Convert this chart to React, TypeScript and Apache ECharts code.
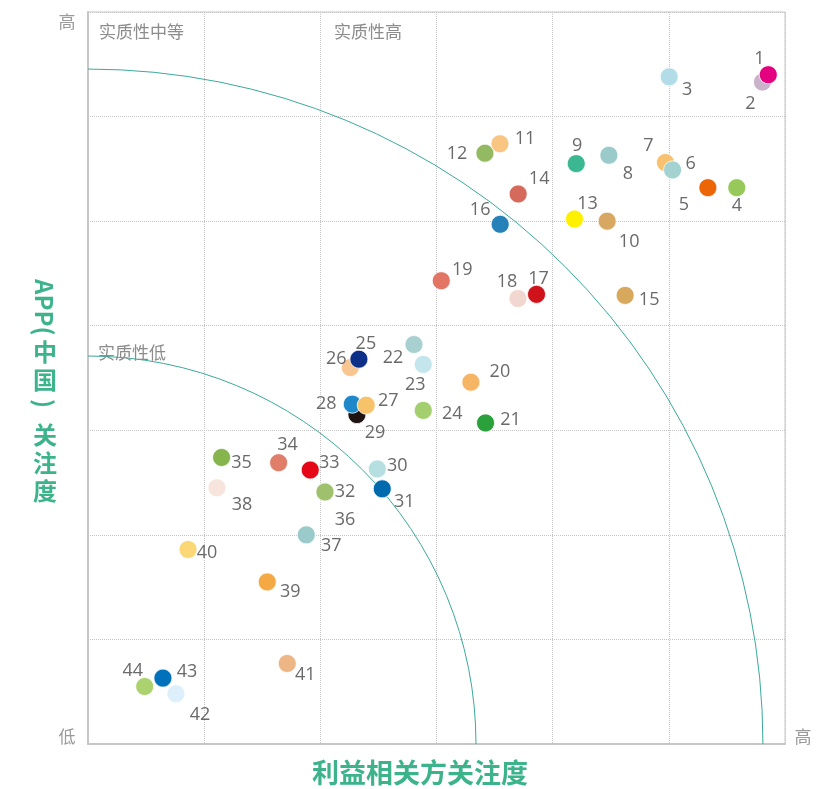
import React, { useEffect, useRef } from "react";
import * as echarts from "echarts";

// Issue numbers
const ids: string[] = Array.from({ length: 44 }, (_, i) => String(i + 1));

// 利益相关方关注度 (x)
const stakeholderValues: number[] = [
  5.856, 5.806, 5.003, 5.585, 5.336, 5.032, 4.971, 4.484, 4.203, 4.469,
  3.546, 3.417, 4.188, 3.703, 4.624, 3.548, 3.861, 3.701, 3.041, 3.296,
  3.422, 2.806, 2.886, 2.886, 2.332, 2.258, 2.395, 2.275, 2.315, 2.49,
  2.533, 2.04, 1.913, 1.641, 1.15, 2.04, 1.879, 1.11, 1.543, 0.861,
  1.715, 0.757, 0.645, 0.488,
];

// APP（中国）关注度 (y)
const appValues: number[] = [
  6.4, 6.33, 6.38, 5.32, 5.32, 5.49, 5.56, 5.63, 5.55, 5.0,
  5.74, 5.65, 5.02, 5.26, 4.29, 4.97, 4.3, 4.26, 4.43, 3.46,
  3.07, 3.82, 3.63, 3.19, 3.68, 3.6, 3.24, 3.25, 3.15, 2.63,
  2.44, 2.41, 2.62, 2.69, 2.74, 2.41, 2.0, 2.45, 1.55, 1.86,
  0.77, 0.48, 0.63, 0.55,
];

const colors: string[] = [
  "#e4007f", "#c9b3c9", "#b2dde8", "#97c85a", "#ec6608", "#a3d2d0", "#f7c170", "#9acbca", "#3bb791", "#d8a862",
  "#f9c583", "#93ba62", "#fff000", "#d5695c", "#d8a95d", "#2581b8", "#d0121b", "#f1d7d0", "#e27564", "#f5b565",
  "#2aa13a", "#a9d0d0", "#c4e5ec", "#a4cf6f", "#0d2f87", "#f9c590", "#f6c26a", "#1f88c9", "#1f1411", "#b6dfe1",
  "#006aae", "#9fc16e", "#e50717", "#e07e6a", "#85b54c", "#9fc16e", "#9bcacb", "#f7e5dd", "#f5a944", "#fbd775",
  "#eeb585", "#ddeffb", "#0071bb", "#acd26f",
];

// label offsets (px) from each dot's centre
const labelOffsets: number[][] = [
  [-9, -18], [-12, 20], [18, 11], [0, 16], [-24, 15], [18, -8], [-17, -19], [19, 17], [1, -20], [22, 19],
  [25, -7], [-28, -1], [13, -17], [21, -17], [24, 3], [-20, -16], [2, -17], [-11, -19], [21, -13], [29, -12],
  [25, -5], [-21, 11], [-8, 19], [29, 2], [7, -17], [-14, -11], [22, -6], [-26, -2], [18, 16], [20, -5],
  [22, 11], [20, -2], [19, -9], [9, -20], [20, 4], [20, 26], [25, 9], [25, 15], [23, 8], [19, 2],
  [18, 10], [24, 19], [24, -8], [-12, -17],
];

const xTicks = { min: 0, max: 6, interval: 1 };
const yTicks = { min: 0, max: 7, interval: 1 };
// arc radii in x-axis units
const arcRadii: number[] = [3.34, 5.81];

const GREEN = "#3db38b";
const CJK = "'Noto Sans CJK SC', 'Noto Sans', sans-serif";

export default function App() {
  const ref = useRef<HTMLDivElement>(null);
  useEffect(() => {
    if (!ref.current) return;
    const chart = echarts.init(ref.current, undefined, { renderer: "svg" });

    const data = ids
      .map((id, i) => ({
        value: [stakeholderValues[i], appValues[i]],
        name: id,
        itemStyle: { color: colors[i] },
        label: { offset: labelOffsets[i] },
      }))
      .reverse();

    const splitLine = { show: true, lineStyle: { type: "dotted" as const, color: "#c4c4c4", width: 1 } };
    chart.setOption({
      animation: false,
      grid: { left: 88, top: 12, width: 697, height: 732, show: true, borderColor: "#c6c6c6", borderWidth: 1 },
      xAxis: {
        type: "value",
        ...xTicks,
        axisLabel: { show: false },
        axisTick: { show: false },
        axisLine: { show: true, lineStyle: { color: "#c6c6c6", width: 2 } },
        splitLine,
      },
      yAxis: {
        type: "value",
        ...yTicks,
        axisLabel: { show: false },
        axisTick: { show: false },
        axisLine: { show: true, lineStyle: { color: "#c6c6c6", width: 2 } },
        splitLine,
      },
      series: [
        {
          type: "scatter",
          symbolSize: 18,
          data,
          itemStyle: { opacity: 1, borderColor: "#ffffff", borderWidth: 0.8 },
          label: {
            show: true,
            position: "inside",
            formatter: (p: any) => p.name,
            color: "#6a6a6a",
            fontSize: 18,
            fontFamily: "'Open Sans', 'Noto Sans', sans-serif",
          },
          emphasis: { disabled: true },
          z: 3,
        },
      ],
    });

    const o = chart.convertToPixel({ gridIndex: 0 }, [0, 0]) as number[];
    const arcs = arcRadii.map((r) => {
      const p = chart.convertToPixel({ xAxisIndex: 0 }, r) as unknown as number;
      const rad = p - o[0];
      return {
        type: "arc",
        shape: { cx: o[0], cy: o[1], r: rad, startAngle: -Math.PI / 2, endAngle: 0, clockwise: true },
        style: { stroke: "#3aa99a", lineWidth: 1, fill: "none" },
        z: 1,
        silent: true,
      };
    });

    const grayText = (text: string, x: number, y: number, align = "left", size = 17, color = "#8c8c8c") => ({
      type: "text",
      x,
      y,
      silent: true,
      style: { text, fill: color, fontSize: size, fontFamily: CJK, align, verticalAlign: "middle" },
      z: 5,
    });

    const upright = (text: string, y: number) => ({
      type: "text",
      x: 45,
      y,
      silent: true,
      style: {
        text,
        fill: GREEN,
        fontSize: 24,
        lineHeight: 28,
        fontWeight: "bold",
        fontFamily: CJK,
        align: "center",
        verticalAlign: "middle",
      },
      z: 5,
    });
    const rotated = (text: string, y: number) => ({
      type: "text",
      x: 45,
      y,
      rotation: -Math.PI / 2,
      silent: true,
      style: { text, fill: GREEN, fontSize: 24, fontWeight: "bold", fontFamily: CJK, align: "left", verticalAlign: "middle" },
      z: 5,
    });

    chart.setOption({
      graphic: [
        ...arcs,
        grayText("实质性中等", 99, 30),
        grayText("实质性高", 334, 30),
        grayText("实质性低", 98, 351),
        grayText("高", 67, 20, "center", 17, "#9a9a9a"),
        grayText("低", 67, 735, "center", 17, "#9a9a9a"),
        grayText("高", 803, 735, "center", 17, "#9a9a9a"),
        {
          type: "text",
          x: 420,
          y: 771,
          silent: true,
          style: {
            text: "利益相关方关注度",
            fill: GREEN,
            fontSize: 27,
            fontWeight: "bold",
            fontFamily: CJK,
            align: "center",
            verticalAlign: "middle",
          },
          z: 5,
        },
        rotated("APP(", 279),
        upright("中\n国", 364),
        rotated(")", 399),
        upright("关\n注\n度", 461),
      ],
    });

    return () => chart.dispose();
  }, []);
  return <div ref={ref} style={{ position: "fixed", left: 0, top: 0, width: 830, height: 789 }} />;
}
